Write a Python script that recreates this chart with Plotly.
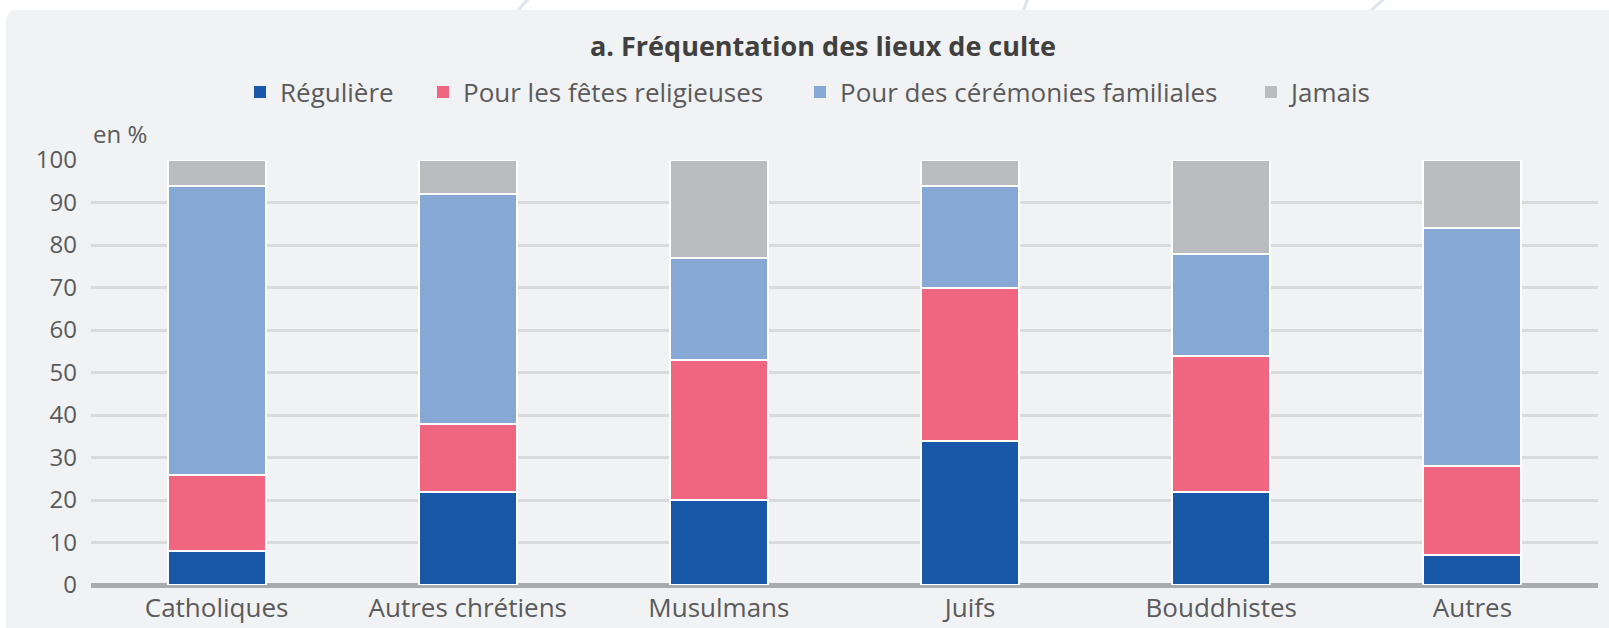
import plotly.graph_objects as go

# ---- data ----
categories = ["Catholiques", "Autres chrétiens", "Musulmans", "Juifs", "Bouddhistes", "Autres"]
reguliere = [8, 22, 20, 34, 22, 7]
fetes = [18, 16, 33, 36, 32, 21]
ceremonies = [68, 54, 24, 24, 24, 56]
jamais = [6, 8, 23, 6, 22, 16]
series_names = ["Régulière", "Pour les fêtes religieuses", "Pour des cérémonies familiales", "Jamais"]
y_ticks = [0, 10, 20, 30, 40, 50, 60, 70, 80, 90, 100]
title_text = "a. Fréquentation des lieux de culte"
unit_text = "en %"

colors = ["#1858a7", "#f0657f", "#86a8d4", "#bbbcbf"]
series_values = [reguliere, fetes, ceremonies, jamais]

# ---- geometry helpers (pixel -> paper) ----
W, H = 1609, 628
ML, MR, MT, MB = 91, 11, 160, 43
PW, PH = W - ML - MR, H - MT - MB


def xp(px):
    return (px - ML) / PW


def yp(py):
    return (H - MB - py) / PH


FONT = "Open Sans, Noto Sans, sans-serif"

fig = go.Figure()
legend_ids = ["legend", "legend2", "legend3", "legend4"]
for name, vals, col, lg in zip(series_names, series_values, colors, legend_ids):
    fig.add_trace(go.Bar(
        x=categories, y=vals, name=name,
        marker=dict(color=col, line=dict(color="#ffffff", width=2)),
        showlegend=False,
    ))
    # legend-only entry (no outline on the symbol)
    fig.add_trace(go.Bar(
        x=[None], y=[None], name=name,
        marker=dict(color=col, line=dict(width=0)),
        showlegend=True, legend=lg, hoverinfo="skip",
    ))

# legend positions (left edge of each legend box, px)
legend_left = [240, 423, 800, 1251]
legend_layout = {}
for lg, lx in zip(legend_ids, legend_left):
    legend_layout[lg] = dict(
        x=xp(lx), xanchor="left", y=yp(92), yanchor="middle",
        orientation="h", bgcolor="rgba(0,0,0,0)", borderwidth=0,
        font=dict(family=FONT, size=26, color="#5a5a5a"),
    )

# panel background with rounded top-left corner
r = 12
x0, y0, x1, y1 = 6, 10, 1640, 660
panel_path = (
    f"M {xp(x0)},{yp(y0 + r)} Q {xp(x0)},{yp(y0)} {xp(x0 + r)},{yp(y0)} "
    f"L {xp(x1)},{yp(y0)} L {xp(x1)},{yp(y1)} L {xp(x0)},{yp(y1)} Z"
)
shapes = [
    # decorative background strokes above panel
    dict(type="line", xref="paper", yref="paper", x0=xp(529), y0=yp(-2), x1=xp(515), y1=yp(14),
         line=dict(color="#dfe4ec", width=3), layer="below"),
    dict(type="line", xref="paper", yref="paper", x0=xp(1028), y0=yp(-2), x1=xp(1022), y1=yp(14),
         line=dict(color="#dfe4ec", width=3), layer="below"),
    dict(type="line", xref="paper", yref="paper", x0=xp(1385), y0=yp(-2), x1=xp(1367), y1=yp(14),
         line=dict(color="#dfe4ec", width=3), layer="below"),
    dict(type="path", xref="paper", yref="paper", path=panel_path,
         fillcolor="#f1f2f4", line=dict(width=0), layer="below"),
]

annotations = [
    dict(text=f"<b>{title_text}</b>", x=xp(823), y=yp(46), xref="paper", yref="paper",
         xanchor="center", yanchor="middle", showarrow=False,
         font=dict(family=FONT, size=27, color="#404040")),
    dict(text=unit_text, x=xp(91), y=yp(133), xref="paper", yref="paper",
         xanchor="left", yanchor="middle", showarrow=False,
         font=dict(family=FONT, size=24, color="#5a5a5a")),
]

fig.update_layout(
    width=W, height=H,
    margin=dict(l=ML, r=MR, t=MT, b=MB, pad=0, autoexpand=False),
    paper_bgcolor="#ffffff",
    plot_bgcolor="rgba(0,0,0,0)",
    barmode="stack",
    bargap=0.61,
    shapes=shapes,
    annotations=annotations,
    font=dict(family=FONT, color="#5a5a5a"),
    **legend_layout,
)
fig.update_xaxes(
    type="category", showgrid=False, showline=False, ticks="",
    tickfont=dict(family=FONT, size=26, color="#5a5a5a"),
    ticklabelstandoff=5,
    automargin=False,
)
fig.update_yaxes(
    range=[0, 100], tickvals=y_ticks, ticks="",
    showgrid=True, gridcolor="#d9dadc", gridwidth=3,
    zeroline=True, zerolinecolor="#a9abad", zerolinewidth=5,
    showline=False,
    tickfont=dict(family=FONT, size=24, color="#5a5a5a"),
    ticklabelstandoff=13,
    automargin=False,
)

fig.write_html(
    "out.html",
    config={"displayModeBar": False},
    post_script="document.body.style.margin='0';document.body.style.overflow='hidden';",
)
